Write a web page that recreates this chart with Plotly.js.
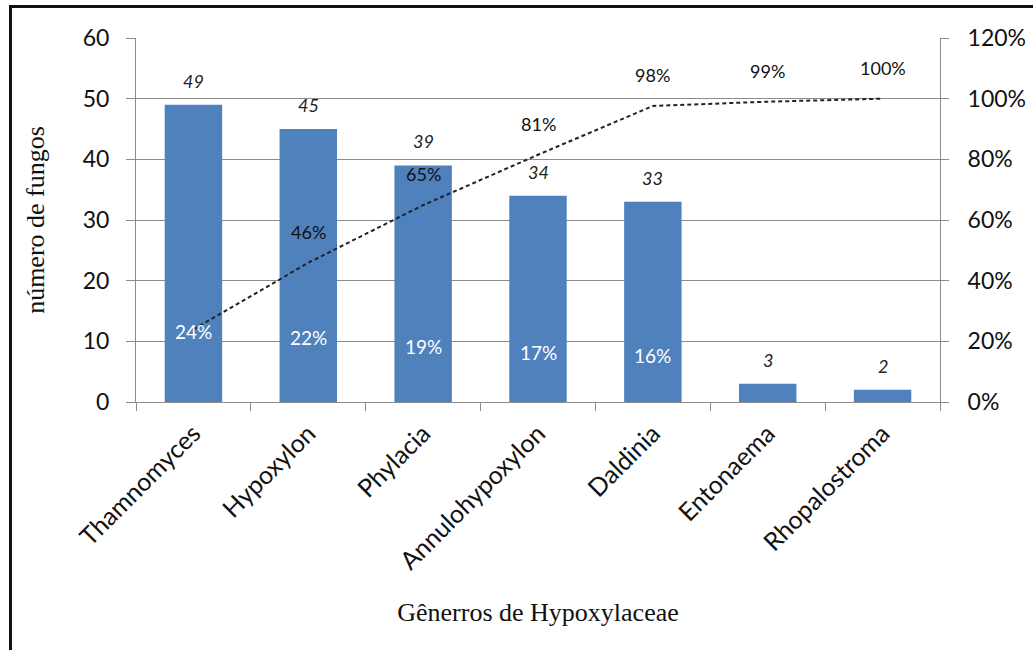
<!DOCTYPE html>
<html>
<head>
<meta charset="utf-8">
<script src="https://cdn.plot.ly/plotly-3.0.1.min.js"></script>
<style>
html,body{margin:0;padding:0;background:#fff;}
#wrap{position:relative;width:1033px;height:650px;overflow:hidden;}
#chart{position:absolute;left:0;top:0;width:1033px;height:650px;}
#frame{position:absolute;left:9px;top:5px;width:1100px;height:700px;border-top:3px solid #111;border-left:3px solid #111;pointer-events:none;}
</style>
</head>
<body>
<div id="wrap"><div id="chart"></div><div id="frame"></div></div>
<script>
// Data
var genera = ["Thamnomyces", "Hypoxylon", "Phylacia", "Annulohypoxylon", "Daldinia", "Entonaema", "Rhopalostroma"];
var counts = [49, 45, 39, 34, 33, 3, 2];
var cumulative = [0.239, 0.459, 0.649, 0.815, 0.976, 0.990, 1.000];
var cumulativeLabels = ["24%", "46%", "65%", "81%", "98%", "99%", "100%"];
var share = [0.24, 0.22, 0.19, 0.17, 0.16];
var shareLabels = ["24%", "22%", "19%", "17%", "16%"];
var leftTicks = [0, 10, 20, 30, 40, 50, 60];
var rightTicks = [0, 0.2, 0.4, 0.6, 0.8, 1.0, 1.2];
var rightTickLabels = ["0%", "20%", "40%", "60%", "80%", "100%", "120%"];

var FONT = "Lato, 'Open Sans', sans-serif";
var SERIF = "'Liberation Serif', 'DejaVu Serif', serif";
var GRID = "#8c8c8c";

var bars = {
  type: "bar", x: genera, y: counts, name: "número de fungos",
  marker: {color: "#4F81BD", line: {width: 0}},
  hoverinfo: "x+y"
};
var line = {
  type: "scatter", mode: "lines", x: genera, y: cumulative, yaxis: "y2",
  line: {color: "#222", width: 2, dash: "4px,3px"},
  name: "acumulado", hoverinfo: "x+y"
};

var annotations = [];
for (var i = 0; i < genera.length; i++) {
  annotations.push({
    x: genera[i], y: counts[i], xref: "x", yref: "y", text: String(counts[i]),
    showarrow: false, yshift: 24,
    font: {family: FONT, size: 18, color: "#222", style: "italic"}
  });
}
for (var j = 1; j < genera.length; j++) {
  annotations.push({
    x: genera[j], y: cumulative[j], xref: "x", yref: "y2", text: cumulativeLabels[j],
    showarrow: false, yshift: 31,
    font: {family: FONT, size: 18, color: "#111"}
  });
}
for (var k = 0; k < share.length; k++) {
  annotations.push({
    x: genera[k], y: share[k], xref: "x", yref: "y2", text: shareLabels[k],
    showarrow: false, yshift: -2,
    font: {family: FONT, size: 19, color: "#ffffff"}
  });
}

var layout = {
  width: 1033, height: 650,
  margin: {l: 136, r: 93, t: 38, b: 248},
  paper_bgcolor: "#fff", plot_bgcolor: "#fff",
  showlegend: false,
  bargap: 0.5,
  font: {family: FONT, color: "#111"},
  xaxis: {
    type: "category", tickangle: -45,
    tickson: "boundaries", ticks: "outside", ticklen: 8, tickcolor: GRID, tickwidth: 1,
    showline: true, linecolor: GRID, linewidth: 1,
    showgrid: false, zeroline: false,
    tickfont: {family: FONT, size: 25, color: "#111"},
    ticklabelstandoff: 6,
    title: {text: "Gênerros de Hypoxylaceae", font: {family: SERIF, size: 26, color: "#111"}, standoff: 28},
    automargin: false
  },
  yaxis: {
    range: [0, 60], tickvals: leftTicks,
    ticks: "outside", ticklen: 9, tickcolor: GRID, tickwidth: 1,
    showline: true, linecolor: GRID, linewidth: 1,
    showgrid: true, gridcolor: GRID, gridwidth: 1, zeroline: false,
    tickfont: {family: FONT, size: 23, color: "#111"},
    ticklabelstandoff: 12,
    title: {text: "número de fungos", font: {family: SERIF, size: 26, color: "#111"}, standoff: 30},
    automargin: false
  },
  yaxis2: {
    overlaying: "y", side: "right",
    range: [0, 1.2], tickvals: rightTicks, ticktext: rightTickLabels,
    ticks: "outside", ticklen: 8, tickcolor: GRID, tickwidth: 1,
    showline: true, linecolor: GRID, linewidth: 1,
    showgrid: false, zeroline: false,
    tickfont: {family: FONT, size: 23, color: "#111"},
    ticklabelstandoff: 14,
    automargin: false
  },
  annotations: annotations
};

Plotly.newPlot("chart", [bars, line], layout, {displayModeBar: false, staticPlot: true});
</script>
</body>
</html>
